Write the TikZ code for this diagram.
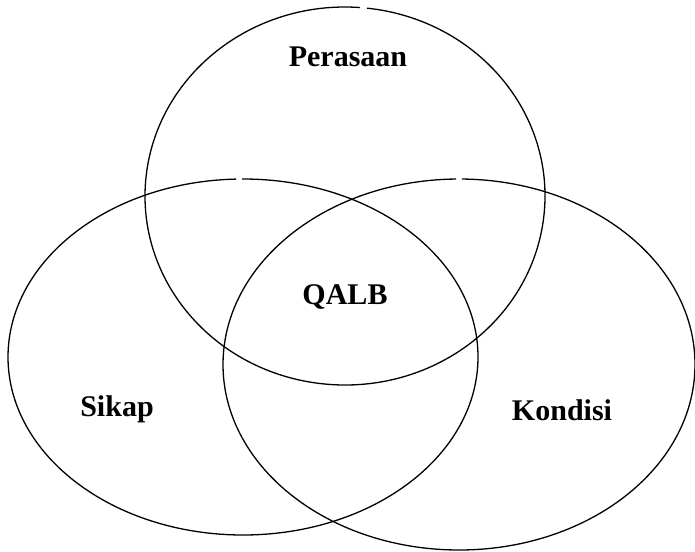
\documentclass[tikz,border=0pt]{standalone}
\usepackage{fontspec}
\setmainfont{Liberation Serif}
\begin{document}
\begin{tikzpicture}[x=1pt,y=-1pt,
  ring/.style={draw=black,line width=1.3pt},
  lbl/.style={font=\bfseries\fontsize{30}{34}\selectfont}]
\useasboundingbox (0,0) rectangle (695,551);
% each ring is drawn as an arc with a small break near its top
\coordinate (ctop) at (345,196);
\coordinate (cleft) at (243,357);
\coordinate (cright) at (459,364.5);
\draw[ring] (ctop) ++(-83.7:200 and 189)
  arc[start angle=-83.7, end angle=274.3, x radius=200, y radius=189];
\draw[ring] (cleft) ++(-90.24:235 and 178)
  arc[start angle=-90.24, end angle=268.3, x radius=235, y radius=178];
\draw[ring] (cright) ++(-89.27:236 and 185.5)
  arc[start angle=-89.27, end angle=269.27, x radius=236, y radius=185.5];
\node[lbl] (per) at (348,57) {Perasaan};
\node[lbl] (qalb) at (345,297) {QALB};
\node[lbl] (sik) at (117,409) {Sikap};
\node[lbl] (kon) at (562,410) {Kondisi};
\end{tikzpicture}
\end{document}
